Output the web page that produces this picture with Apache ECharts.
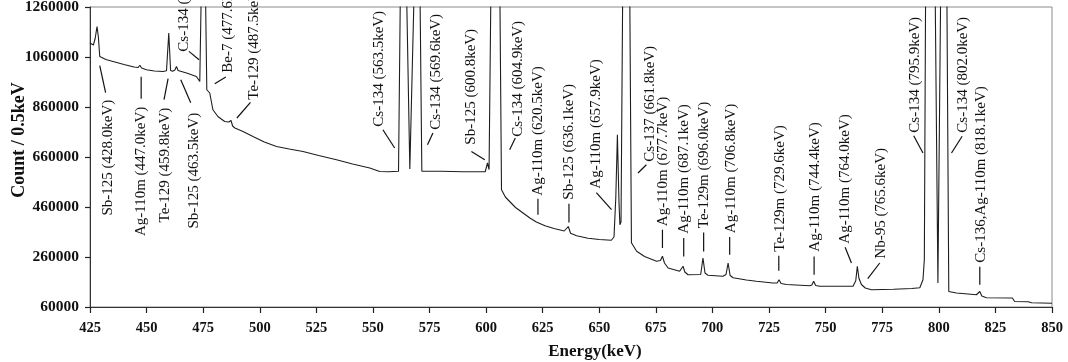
<!DOCTYPE html>
<html>
<head>
<meta charset="utf-8">
<script src="https://cdn.jsdelivr.net/npm/echarts@6/dist/echarts.min.js"></script>
<style>
html,body{margin:0;padding:0;background:#fff;}
#chart{width:1068px;height:362px;}
</style>
</head>
<body>
<div id="chart"></div>
<script>
// ---- spectrum (energy keV, counts per 0.5 keV) ----
var energy = [
425.0,426.5,427.3,428.1,428.7,429.3,432.0,435.2,440.0,444.5,446.3,447.0,447.8,449.9,453.5,457.3,458.8,459.8,460.6,461.5,
462.5,463.2,463.9,464.6,468.0,472.0,473.5,474.3,475.9,476.6,477.9,479.3,481.5,484.5,486.3,487.3,488.0,489.0,492.6,497.0,
502.0,507.4,513.0,519.1,526.0,533.9,541.0,548.6,553.0,557.0,561.3,562.2,564.7,566.3,566.9,568.4,570.7,571.6,580.0,590.0,
599.6,600.6,601.3,602.2,606.0,606.8,608.5,610.4,613.0,616.3,619.5,622.2,626.0,630.0,634.5,635.3,636.3,637.3,640.0,645.0,
650.0,655.3,656.5,657.3,658.0,658.7,659.1,659.6,660.4,663.4,664.2,666.5,670.0,675.3,677.0,677.9,678.8,680.4,685.5,686.3,
687.0,687.8,689.2,694.8,695.8,696.7,698.0,704.6,706.0,706.9,707.8,709.1,715.0,719.4,726.7,728.6,729.4,730.3,732.7,743.0,
743.9,744.7,745.6,747.4,762.1,763.3,764.0,764.7,765.8,767.5,770.2,780.0,788.0,791.6,793.0,793.6,794.2,798.3,799.6,800.9,
803.5,804.4,807.8,816.6,817.4,818.1,819.0,821.0,832.5,833.5,839.5,840.2,841.0,850.0
];
var counts = [
1116000,1108000,1135000,1182000,1140000,1062000,1050000,1042000,1030000,1020000,1018000,1027000,1016000,1009000,1004000,1002000,1005000,1156000,1006000,1003000,
1008000,1022000,1006000,1002000,995000,982000,962000,1400000,1400000,929000,916000,849000,822000,802000,800000,806000,784000,776000,762000,742000,
720000,702000,692000,682000,666000,649000,632000,616000,602000,601000,603000,1400000,1400000,612000,612000,1400000,1400000,603000,603000,601000,
601000,636000,610000,1400000,1400000,529000,500000,482000,458000,436000,415000,400000,385000,374000,364000,362000,382000,355000,345000,335000,
330000,327000,340000,500000,749000,480000,389000,400000,1400000,1400000,317000,283000,262000,243000,246000,263000,236000,216000,203000,206000,
223000,200000,189000,190000,256000,196000,187000,183000,190000,236000,186000,177000,168000,163000,156000,156000,169000,154000,150000,145000,
148000,163000,146000,143000,143000,165000,223000,175000,150000,136000,129000,131000,134000,137000,169000,250000,1400000,1400000,156000,1400000,
1400000,122000,116000,109000,113000,122000,104000,97000,96000,82000,81000,85000,77000,75000
];

// ---- axis ticks ----
var xTicks = [425,450,475,500,525,550,575,600,625,650,675,700,725,750,775,800,825,850];
var yTicks = [60000,260000,460000,660000,860000,1060000,1260000];

// ---- peak labels ----
var peakLabels = [
'Sb-125 (428.0keV)','Ag-110m (447.0keV)','Te-129 (459.8keV)','Sb-125 (463.5keV)',
'Cs-134 (475.4keV)','Be-7 (477.6keV)','Te-129 (487.5keV)',
'Cs-134 (563.5keV)','Cs-134 (569.6keV)','Sb-125 (600.8keV)','Cs-134 (604.9keV)',
'Ag-110m (620.5keV)','Sb-125 (636.1keV)','Ag-110m (657.9keV)','Cs-137 (661.8keV)',
'Ag-110m (677.7keV)','Ag-110m (687.1keV)','Te-129m (696.0keV)','Ag-110m (706.8keV)',
'Te-129m (729.6keV)','Ag-110m (744.4keV)','Ag-110m (764.0keV)','Nb-95 (765.6keV)',
'Cs-134 (795.9keV)','Cs-134 (802.0keV)','Cs-136,Ag-110m (818.1keV)'
];

// layout of each label in axis units: leader start (near curve), leader end, text anchor
var labelLayout = [
[429.3,1025200,431.9,917200,432.8,889200],
[447.6,981200,447.6,893200,447.6,861200],
[459.5,973200,457.7,889200,458.3,857200],
[465.1,969200,469.5,877200,471.0,837200],
[473.2,1049200,468.7,1082400,466.4,1081200],
[480.1,953200,485.0,980000,486.0,997200],
[489.9,816000,495.9,878400,497.3,889200],
[559.6,696000,554.4,769200,552.9,781200],
[574.1,709200,576.5,756000,578.0,769200],
[599.4,649200,593.5,682400,593.5,709200],
[610.4,689200,612.9,736000,614.1,741200],
[622.9,429200,622.9,493200,622.9,505200],
[636.6,398400,636.6,473200,636.6,489200],
[655.4,449200,648.7,517200,648.7,533200],
[667.1,596000,670.8,629200,672.3,641200],
[677.9,296000,677.9,369200,678.1,383200],
[687.3,262400,687.3,336000,687.6,353200],
[696.1,282400,696.1,358400,696.4,375200],
[707.6,269200,707.6,340000,708.0,355200],
[729.3,205200,729.3,265200,729.7,281200],
[744.9,189200,744.9,262400,745.2,281200],
[761.4,236000,758.6,299200,758.4,313200],
[768.6,173200,773.9,236000,774.5,253200],
[793.0,676000,788.9,745200,789.3,757200],
[805.6,676000,810.3,743200,810.8,757200],
[818.1,149200,818.1,221200,818.7,237200]
];
// labels hanging below their leader (text extends downward)
var hangDown = [true,true,true,true];

var spectrum = energy.map(function(e,i){return [e,counts[i]];});
var SERIF = '"Liberation Serif","Times New Roman",serif';

var chart = echarts.init(document.getElementById('chart'), null, {renderer:'canvas'});
chart.setOption({
  animation:false,
  backgroundColor:'#fff',
  grid:{left:90,right:16,top:7,bottom:55,show:true,borderColor:'#8a8a8a',borderWidth:1,containLabel:false,outerBoundsMode:'none'},
  xAxis:{
    type:'value',min:425,max:850,interval:25,
    axisLine:{show:true,onZero:false,lineStyle:{color:'#333',width:1}},
    axisTick:{show:true,length:6,lineStyle:{color:'#222',width:1.2}},
    splitLine:{show:false},
    axisLabel:{show:true,margin:14,color:'#111',fontFamily:SERIF,fontWeight:'bold',fontSize:14.5,
      customValues:xTicks,formatter:function(v){return String(v);}}
  },
  yAxis:{
    type:'value',min:60000,max:1260000,
    axisLine:{show:true,onZero:false,lineStyle:{color:'#333',width:1}},
    axisTick:{show:true,length:5,lineStyle:{color:'#222',width:1.2},customValues:yTicks},
    splitLine:{show:false},
    axisLabel:{show:true,margin:11,color:'#111',fontFamily:SERIF,fontWeight:'bold',fontSize:15.5,
      customValues:yTicks,formatter:function(v){return String(Math.round(v));}}
  },
  graphic:[
    {type:'text',x:19,y:140,rotation:Math.PI/2,style:{text:'Count / 0.5keV',font:'bold 18px '+SERIF,fill:'#111',align:'center',verticalAlign:'middle'}},
    {type:'text',x:595,y:352,style:{text:'Energy(keV)',font:'bold 17px '+SERIF,fill:'#111',align:'center',verticalAlign:'middle'}}
  ],
  series:[
    {
      type:'line',data:spectrum,showSymbol:false,symbol:'none',clip:true,
      lineStyle:{color:'#1e1e1e',width:1.1},silent:true
    },
    {
      type:'custom',silent:true,clip:false,
      data:labelLayout,
      renderItem:function(params,api){
        var i = params.dataIndex;
        var p1 = api.coord([api.value(0),api.value(1)]);
        var p2 = api.coord([api.value(2),api.value(3)]);
        var pt = api.coord([api.value(4),api.value(5)]);
        var down = !!hangDown[i];
        return {type:'group',children:[
          {type:'line',shape:{x1:p1[0],y1:p1[1],x2:p2[0],y2:p2[1]},style:{stroke:'#111',lineWidth:1.2}},
          {type:'text',x:pt[0],y:pt[1],rotation:Math.PI/2,
           style:{text:peakLabels[i],font:'15px '+SERIF,fill:'#111',align:down?'right':'left',verticalAlign:'middle'}}
        ]};
      }
    }
  ]
});
</script>
</body>
</html>
